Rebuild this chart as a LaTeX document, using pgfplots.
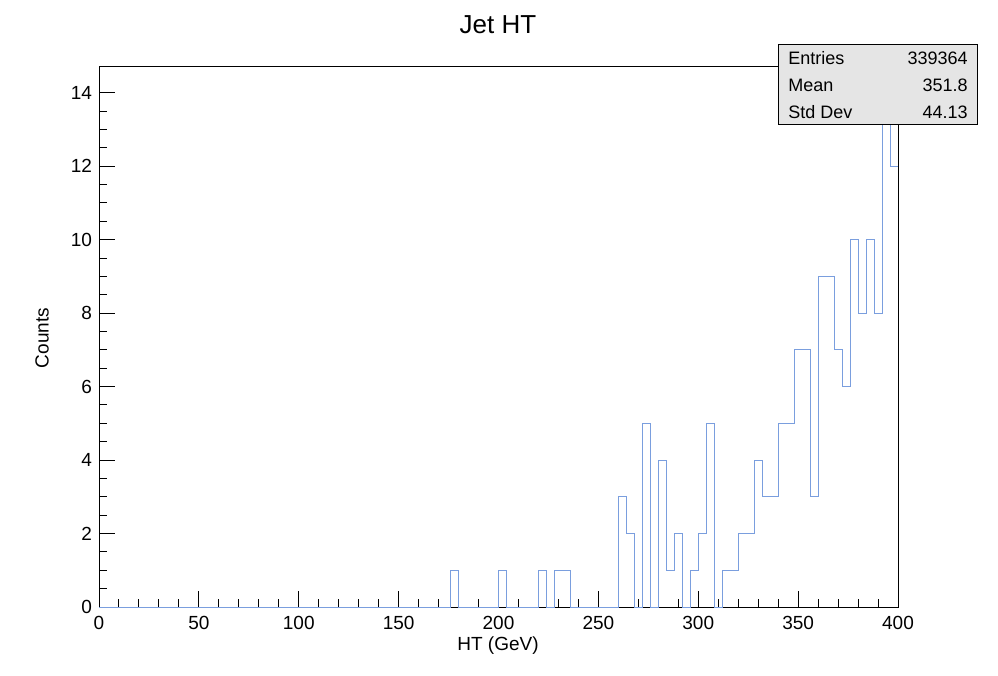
\documentclass[border=0pt]{standalone}
\usepackage{pgfplots}
\pgfplotsset{compat=1.18}
\usepackage{fontspec}
\setmainfont{Liberation Sans}
\definecolor{hist}{RGB}{122,158,222}
\begin{document}
\begin{tikzpicture}
\path (0,0) rectangle (499pt,338pt);
\begin{axis}[at={(49.5pt,34.5pt)}, anchor=south west, scale only axis,
 width=399.5pt, height=270pt, xmin=0, xmax=400, ymin=0, ymax=14.7,
 xtick={0,50,...,400}, ytick={0,2,...,14},
 minor x tick num=4, minor y tick num=3,
 tick align=inside, xtick pos=bottom, ytick pos=left,
 major tick length=8pt, minor tick length=4pt,
 tick style={black, line width=0.5pt},
 axis line style={line width=0.5pt},
 ticklabel style={font=\fontsize{9.5}{11}\selectfont},
 /pgf/number format/assume math mode=true,
 xticklabel style={yshift=-1pt},
 clip=true]
\addplot[const plot mark left, color=hist, line width=0.5pt] coordinates {
(0,0)(176,1)(180,0)(200,1)(204,0)(220,1)(224,0)(228,1)(232,1)(236,0)
(260,3)(264,2)(268,0)(272,5)(276,0)(280,4)(284,1)(288,2)(292,0)(296,1)
(300,2)(304,5)(308,0)(312,1)(316,1)(320,2)(324,2)(328,4)(332,3)(336,3)
(340,5)(344,5)(348,7)(352,7)(356,3)(360,9)(364,9)(368,7)(372,6)(376,10)
(380,8)(384,10)(388,8)(392,15)(396,12)(400,12)};
\end{axis}
\node[font=\fontsize{13}{15}\selectfont] at (249pt,325.5pt) {Jet HT};
\node[font=\fontsize{9.5}{11}\selectfont] at (249pt,15pt) {HT (GeV)};
\node[font=\fontsize{9.5}{11}\selectfont, rotate=90] at (21pt,169pt) {Counts};
\draw[fill=black!10, line width=0.5pt] (389pt,275.5pt) rectangle (488.5pt,315.5pt);
\begin{scope}[every node/.style={font=\fontsize{9}{10}\selectfont, inner sep=0pt}]
\node[anchor=west] at (394pt,309pt) {Entries};
\node[anchor=east] at (484pt,309pt) {339364};
\node[anchor=west] at (394pt,295.5pt) {Mean};
\node[anchor=east] at (484pt,295.5pt) {351.8};
\node[anchor=west] at (394pt,282pt) {Std Dev};
\node[anchor=east] at (484pt,282pt) {44.13};
\end{scope}
\end{tikzpicture}
\end{document}
